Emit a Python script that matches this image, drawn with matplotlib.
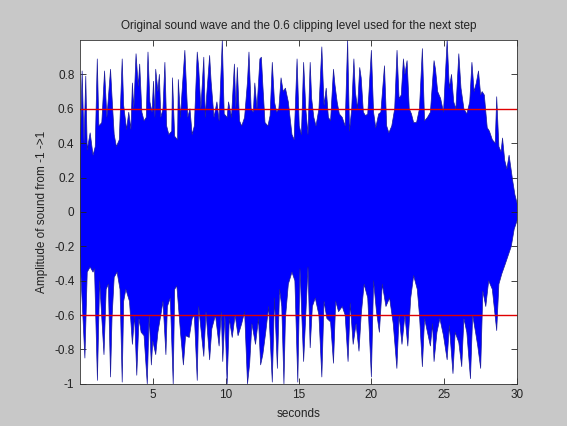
import matplotlib
matplotlib.use("Agg")
import matplotlib.pyplot as plt
import numpy as np

# upper outline of the wave (seconds, amplitude)
top_t = [0.0, 0.15, 0.28, 0.4, 0.5, 0.7, 0.9, 1.05, 1.19, 1.3, 1.5, 1.69, 1.85, 2.1, 2.2, 2.35,
         2.5, 2.7, 2.9, 3.0, 3.2, 3.35, 3.5, 3.6, 3.7, 3.85, 4.0, 4.1, 4.25, 4.4, 4.55, 4.67,
         4.8, 4.95, 5.05, 5.15, 5.2, 5.35, 5.45, 5.55, 5.7, 5.83, 5.95, 6.1, 6.3, 6.35, 6.5,
         6.7, 6.75, 6.9, 7.0, 7.2, 7.3, 7.4, 7.55, 7.7, 7.85, 8.05, 8.15, 8.3, 8.5, 8.6, 8.7,
         8.9, 9.0, 9.2, 9.4, 9.55, 9.77, 9.9, 10.1, 10.2, 10.4, 10.6, 10.7, 10.8, 10.95, 11.1,
         11.3, 11.5, 11.6, 11.75, 11.9, 12.0, 12.15, 12.35, 12.45, 12.55, 12.7, 12.9, 13.05,
         13.2, 13.35, 13.5, 13.65, 13.8, 13.95, 14.1, 14.3, 14.55, 14.7, 14.9, 15.05, 15.2,
         15.35, 15.5, 15.65, 15.8, 15.9, 16.05, 16.2, 16.4, 16.6, 16.75, 16.9, 17.05, 17.2,
         17.4, 17.5, 17.65, 17.8, 18.0, 18.2, 18.37, 18.5, 18.65, 18.8, 18.9, 19.05, 19.2,
         19.3, 19.45, 19.6, 19.75, 20.0, 20.15, 20.3, 20.5, 20.65, 20.9, 21.05, 21.2, 21.4,
         21.6, 21.76, 21.9, 22.05, 22.2, 22.3, 22.45, 22.6, 22.75, 22.9, 23.1, 23.3, 23.5,
         23.65, 23.85, 24.05, 24.3, 24.4, 24.55, 24.75, 24.95, 25.2, 25.35, 25.5, 25.65, 25.8,
         26.0, 26.15, 26.35, 26.55, 26.75, 26.9, 27.05, 27.2, 27.35, 27.5, 27.6, 27.75, 27.95,
         28.1, 28.3, 28.5, 28.6, 28.75, 28.9, 29.0, 29.15, 29.3, 29.45, 29.6, 29.7, 29.85, 30.0]
top_v = [0.28, 0.82, 0.4, 0.79, 0.36, 0.46, 0.33, 0.38, 0.89, 0.5, 0.52, 0.82, 0.55, 0.83, 0.67, 0.45,
         0.38, 0.42, 0.89, 0.62, 0.48, 0.58, 0.48, 0.75, 0.6, 0.92, 0.73, 0.86, 0.58, 0.53, 0.55, 0.93,
         0.64, 0.58, 0.76, 0.55, 0.83, 0.7, 0.8, 0.55, 0.6, 0.87, 0.5, 0.45, 0.47, 0.78, 0.44,
         0.42, 0.77, 0.55, 0.69, 0.94, 0.74, 0.55, 0.6, 0.45, 0.5, 0.93, 0.84, 0.6, 0.9, 0.55, 0.68,
         0.91, 0.76, 0.55, 0.64, 0.53, 1.0, 0.57, 0.55, 0.64, 0.55, 0.86, 0.6, 0.84, 0.53, 0.5,
         0.55, 0.76, 0.93, 0.6, 0.58, 0.75, 0.6, 0.89, 0.9, 0.74, 0.52, 0.5, 0.56,
         0.87, 0.64, 0.58, 0.6, 0.78, 0.7, 0.72, 0.64, 0.45, 0.42, 0.89, 0.5, 0.45,
         0.87, 0.6, 0.45, 0.87, 0.66, 0.55, 0.5, 0.6, 0.96, 0.62, 0.72, 0.55, 0.53,
         0.83, 0.74, 0.64, 0.57, 0.55, 0.5, 1.0, 0.47, 0.6, 0.89, 0.7, 0.6, 0.84,
         0.78, 0.58, 0.56, 0.57, 0.94, 0.58, 0.49, 0.57, 0.58, 0.85, 0.5, 0.46, 0.5,
         0.6, 0.94, 0.66, 0.68, 0.89, 0.8, 0.88, 0.6, 0.57, 0.52, 0.52, 0.6, 0.95,
         0.53, 0.55, 0.58, 0.88, 0.83, 0.7, 0.66, 0.58, 1.0, 0.72, 0.8, 0.64, 0.6,
         0.92, 0.72, 0.6, 0.57, 0.64, 0.87, 0.7, 0.75, 0.82, 0.68, 0.7, 0.68, 0.49,
         0.47, 0.42, 0.4, 0.67, 0.38, 0.35, 0.43, 0.3, 0.25, 0.33, 0.24, 0.18, 0.1, 0.05]

# lower outline of the wave
bot_t = [0.0, 0.34, 0.5, 0.7, 0.9, 1.0, 1.2, 1.35, 1.5, 1.65, 1.8, 1.95, 2.1, 2.2, 2.35, 2.55,
         2.75, 2.9, 3.0, 3.15, 3.4, 3.6, 3.75, 3.9, 4.05, 4.2, 4.4, 4.62, 4.75, 4.9, 5.0, 5.2,
         5.35, 5.55, 5.7, 5.9, 6.0, 6.2, 6.4, 6.5, 6.65, 6.9, 7.1, 7.25, 7.5, 7.7, 7.85, 8.05,
         8.15, 8.35, 8.5, 8.65, 8.9, 9.05, 9.3, 9.55, 9.7, 9.8, 9.95, 10.1, 10.25, 10.45, 10.65,
         10.85, 11.1, 11.3, 11.5, 11.65, 11.8, 12.05, 12.25, 12.4, 12.55, 12.75, 12.95, 13.2,
         13.35, 13.55, 13.7, 13.85, 14.0, 14.1, 14.3, 14.55, 14.75, 14.95, 15.1, 15.35, 15.5,
         15.65, 15.8, 15.95, 16.15, 16.4, 16.6, 16.75, 16.95, 17.2, 17.4, 17.55, 17.75, 18.0,
         18.2, 18.4, 18.55, 18.75, 18.95, 19.15, 19.3, 19.5, 19.75, 20.0, 20.15, 20.35, 20.55,
         20.75, 21.0, 21.25, 21.5, 21.75, 21.9, 22.1, 22.3, 22.5, 22.7, 22.9, 23.15, 23.3, 23.5,
         23.65, 23.85, 24.05, 24.2, 24.3, 24.5, 24.7, 24.95, 25.2, 25.35, 25.6, 25.75, 26.0,
         26.2, 26.35, 26.55, 26.8, 26.95, 27.15, 27.3, 27.5, 27.65, 27.85, 28.05, 28.3, 28.6,
         28.75, 28.95, 29.2, 29.4, 29.6, 29.8, 30.0]
bot_v = [-0.25, -0.85, -0.35, -0.32, -0.35, -0.33, -0.98, -0.4, -0.62, -0.83, -0.45, -0.42, -0.96, -0.62, -0.38, -0.35,
         -0.45, -0.99, -0.52, -0.45, -0.52, -0.77, -0.6, -0.95, -0.62, -0.7, -0.72, -1.0, -0.6, -0.89, -0.75, -0.83,
         -0.7, -0.6, -0.52, -0.83, -0.55, -0.5, -1.0, -0.45, -0.43, -0.7, -0.89, -0.72, -0.73, -0.62, -0.6, -0.98,
         -0.55, -0.72, -0.84, -0.58, -0.86, -0.68, -0.6, -0.78, -0.58, -0.87, -0.6, -1.0, -0.62, -0.73, -0.6,
         -0.72, -0.65, -0.58, -1.0, -0.88, -0.65, -0.77, -0.62, -0.89, -0.83, -0.7, -0.55, -0.99,
         -0.5, -0.91, -0.45, -0.55, -1.0, -0.62, -0.42, -0.35, -0.4, -0.99, -0.33, -0.87, -0.6,
         -0.32, -0.79, -0.55, -0.5, -0.6, -0.96, -0.52, -0.62, -0.64, -0.88, -0.52, -0.58, -0.55,
         -0.6, -0.87, -0.53, -0.77, -0.65, -0.81, -0.6, -0.42, -0.5, -0.96, -0.4, -0.58, -0.7,
         -0.42, -0.55, -0.5, -0.65, -0.91, -0.6, -0.77, -0.6, -0.78, -0.5, -0.37, -0.45, -0.6, -0.9,
         -0.62, -0.7, -0.78, -0.65, -0.87, -0.7, -0.62, -0.72, -0.86, -0.66, -0.94, -0.7, -0.76,
         -0.9, -0.62, -0.7, -0.97, -0.6, -0.7, -0.78, -0.91, -0.46, -0.55, -0.4, -0.45, -0.69,
         -0.42, -0.36, -0.3, -0.25, -0.2, -0.1, -0.05]

clip_level = 0.6
y_ticks = [-1, -0.8, -0.6, -0.4, -0.2, 0, 0.2, 0.4, 0.6, 0.8]
y_labels = ["-1", "-0.8", "-0.6", "-0.4", "-0.2", "0", "0.2", "0.4", "0.6", "0.8"]
x_ticks = [5, 10, 15, 20, 25, 30]

plt.rcParams["font.family"] = ["Liberation Sans", "DejaVu Sans"]

fig = plt.figure(figsize=(5.67, 4.26), dpi=100, facecolor="#c8c8c8")
ax = fig.add_axes([0.141, 0.099, 0.771, 0.807])

# one closed polygon: upper outline left->right, lower outline right->left
poly_t = np.concatenate([top_t, bot_t[::-1]])
poly_v = np.concatenate([top_v, bot_v[::-1]])
ax.fill(poly_t, poly_v, color="#0000ff", lw=0)
ax.plot(top_t, top_v, color="#1c1c9a", lw=0.5)
ax.plot(bot_t, bot_v, color="#1c1c9a", lw=0.5)

ax.axhline(clip_level, color="#e00000", lw=1)
ax.axhline(-clip_level, color="#e00000", lw=1)

ax.set_xlim(0, 30)
ax.set_ylim(-1, 1)
ax.set_xticks(x_ticks)
ax.set_yticks(y_ticks)
ax.set_yticklabels(y_labels)
ax.tick_params(direction="in", length=4, width=0.6, labelsize=8.5, colors="#222222",
               top=True, right=True, pad=4)
for s in ax.spines.values():
    s.set_linewidth(0.6)
    s.set_color("#333333")

ax.set_title("Original sound wave and the 0.6 clipping level used for the next step",
             fontsize=8.5, color="#222222", pad=8)
ax.set_xlabel("seconds", fontsize=8.5, color="#222222", labelpad=5)
ax.set_ylabel("Amplitude of sound from -1 ->1", fontsize=8.5, color="#222222", labelpad=4)

fig.savefig("out.png", dpi=100, facecolor=fig.get_facecolor())
